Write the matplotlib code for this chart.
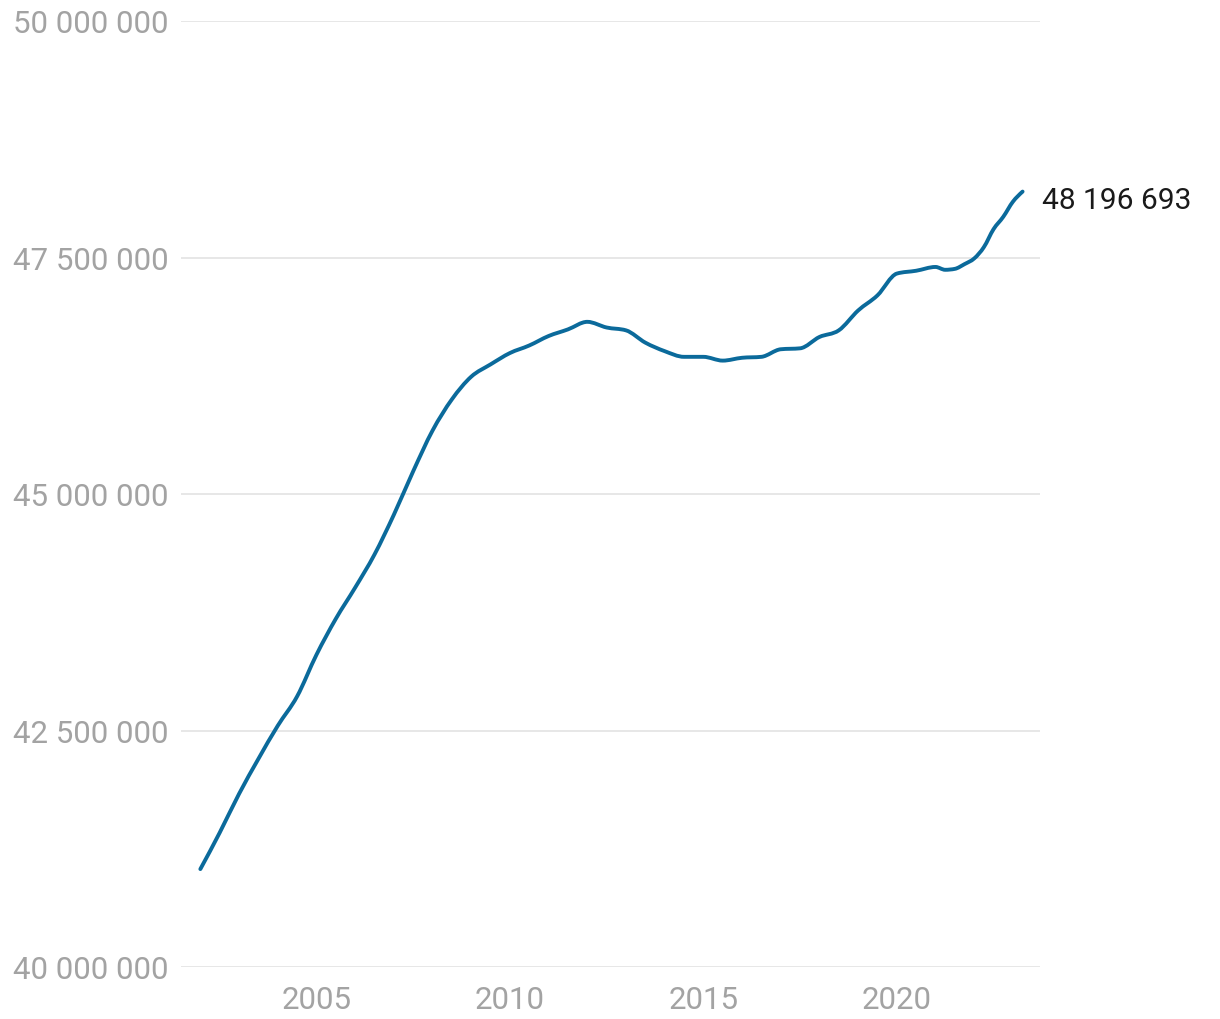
import numpy as np
import matplotlib
matplotlib.use("Agg")
import matplotlib.pyplot as plt
from matplotlib.path import Path
from matplotlib.patches import PathPatch
from matplotlib.ticker import FuncFormatter

# Population (millions), semiannual to 2021, quarterly afterwards
years = [2002.0, 2002.5, 2003.0, 2003.5, 2004.0, 2004.5, 2005.0, 2005.5,
         2006.0, 2006.5, 2007.0, 2007.5, 2008.0, 2008.5, 2009.0, 2009.5,
         2010.0, 2010.5, 2011.0, 2011.5, 2012.0, 2012.5, 2013.0, 2013.5,
         2014.0, 2014.5, 2015.0, 2015.5, 2016.0, 2016.5, 2017.0, 2017.5,
         2018.0, 2018.5, 2019.0, 2019.5, 2020.0, 2020.5, 2021.0,
         2021.25, 2021.5, 2021.75, 2022.0, 2022.25, 2022.5, 2022.75,
         2023.0, 2023.25]
population = [41.035, 41.42, 41.83, 42.20, 42.55, 42.86, 43.30, 43.68,
              44.01, 44.36, 44.78, 45.24, 45.67, 46.00, 46.24, 46.37,
              46.49, 46.57, 46.67, 46.74, 46.82, 46.76, 46.73, 46.60,
              46.51, 46.45, 46.45, 46.41, 46.44, 46.45, 46.53, 46.54,
              46.66, 46.73, 46.94, 47.10, 47.33, 47.36, 47.40,
              47.37, 47.38, 47.43, 47.49, 47.61, 47.80, 47.93,
              48.09, 48.196693]
last_label = "48 196 693"

y_ticks = [40e6, 42.5e6, 45e6, 47.5e6, 50e6]
x_ticks = [2005, 2010, 2015, 2020]

LINE = "#0b6a9b"
GREY = "#a3a3a3"


def monotone_path(x, y):
    """Bezier path like d3.curveMonotoneX."""
    x = np.asarray(x, float)
    y = np.asarray(y, float)
    n = len(x)
    h = np.diff(x)
    s = np.diff(y) / h
    t = np.zeros(n)
    for i in range(1, n - 1):
        p = (s[i - 1] * h[i] + s[i] * h[i - 1]) / (h[i - 1] + h[i])
        t[i] = (np.sign(s[i - 1]) + np.sign(s[i])) * min(abs(s[i - 1]), abs(s[i]), 0.5 * abs(p))
    t[0] = (3 * s[0] - t[1]) / 2 if n > 2 else s[0]
    t[-1] = (3 * s[-1] - t[-2]) / 2 if n > 2 else s[-1]
    verts = [(x[0], y[0])]
    codes = [Path.MOVETO]
    for i in range(n - 1):
        d = h[i] / 3
        verts += [(x[i] + d, y[i] + d * t[i]), (x[i + 1] - d, y[i + 1] - d * t[i + 1]),
                  (x[i + 1], y[i + 1])]
        codes += [Path.CURVE4] * 3
    return Path(verts, codes)


plt.rcParams['font.family'] = ['Roboto', 'DejaVu Sans']

fig = plt.figure(figsize=(12.2, 10.2), dpi=100)
ax = fig.add_axes([181 / 1220, 52 / 1020, (1040 - 181) / 1220, (968 - 22) / 1020])

vals = np.array(population) * 1e6
ax.add_patch(PathPatch(monotone_path(years, vals), facecolor="none",
                       edgecolor=LINE, lw=2.8, capstyle="round", joinstyle="round"))

ax.set_xlim(2001.5, 2023.7)
ax.set_ylim(40e6, 50e6)
ax.set_yticks(y_ticks)
ax.set_xticks(x_ticks)
ax.yaxis.set_major_formatter(FuncFormatter(lambda v, _: f"{v:,.0f}".replace(",", " ")))
ax.grid(axis="y", color="#e3e3e3", lw=1.2)
ax.grid(axis="x", visible=False)
ax.set_axisbelow(True)
for sp in ax.spines.values():
    sp.set_visible(False)
ax.tick_params(axis="both", length=0, labelcolor=GREY)
ax.tick_params(axis="y", pad=9, labelsize=22.5)
ax.tick_params(axis="x", pad=13, labelsize=22.5)

ax.annotate(last_label, xy=(years[-1], vals[-1]), xytext=(14, -6),
            textcoords="offset points", fontsize=21.5, color="#1a1a1a",
            va="center", ha="left", annotation_clip=False)

fig.savefig("out.png", dpi=100, facecolor="white")
